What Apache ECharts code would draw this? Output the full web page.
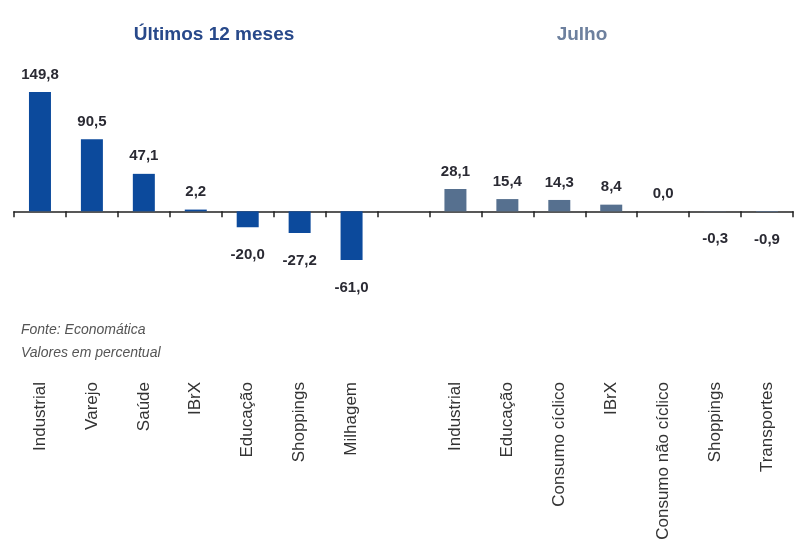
<!DOCTYPE html>
<html>
<head>
<meta charset="utf-8">
<script src="https://cdn.jsdelivr.net/npm/echarts@6/dist/echarts.min.js"></script>
<style>
    html, body { margin: 0; padding: 0; background: #fff; }
    #chart { width: 802px; height: 559px; }
</style>
</head>
<body>
<div id="chart"></div>
<script>
// Últimos 12 meses
var cat12 = ['Industrial', 'Varejo', 'Saúde', 'IBrX', 'Educação', 'Shoppings', 'Milhagem'];
var val12 = [149.8, 90.5, 47.1, 2.2, -20.0, -27.2, -61.0];
// Julho
var catJul = ['Industrial', 'Educação', 'Consumo cíclico', 'IBrX', 'Consumo não cíclico', 'Shoppings', 'Transportes'];
var valJul = [28.1, 15.4, 14.3, 8.4, 0.0, -0.3, -0.9];

var font = '"Liberation Sans", Arial, sans-serif';

// eixo único: grupo 1, espaço vazio, grupo 2
var categories = cat12.concat(['']).concat(catJul);
var data12 = val12.slice();
var dataJul = [];
for (var i = 0; i < cat12.length + 1; i++) {
    dataJul.push('-');
}
for (i = 0; i < catJul.length + 1; i++) {
    data12.push('-');
}
dataJul = dataJul.concat(valJul);

function fmt(p) {
    return p.value.toFixed(1).replace('.', ',');
}

function withLabels(arr) {
    return arr.map(function (v) {
        if (v === '-') return v;
        return {
            value: v,
            label: v < 0 ? { position: 'bottom', distance: 20 } : { position: 'top', distance: 10 }
        };
    });
}

var labelCfg = {
    show: true,
    formatter: fmt,
    fontFamily: font,
    fontWeight: 'bold',
    fontSize: 15,
    color: '#2a2a33'
};

var myChart = echarts.init(document.getElementById('chart'));
var option = {
    animation: false,
    title: [
        {
            text: 'Últimos 12 meses',
            left: 209, top: 20, textAlign: 'center',
            textStyle: { fontFamily: font, fontSize: 19, fontWeight: 'bold', color: '#28498a' }
        },
        {
            text: 'Julho',
            left: 577, top: 20, textAlign: 'center',
            textStyle: { fontFamily: font, fontSize: 19, fontWeight: 'bold', color: '#6d809e' }
        }
    ],
    graphic: [
        {
            type: 'text', left: 21, top: 323,
            style: { text: 'Fonte: Economática', font: 'italic 14px ' + font, fill: '#555' }
        },
        {
            type: 'text', left: 21, top: 346,
            style: { text: 'Valores em percentual', font: 'italic 14px ' + font, fill: '#555' }
        }
    ],
    grid: { left: 14, right: 9, top: 84, height: 191, outerBoundsMode: 'none', containLabel: false },
    xAxis: {
        type: 'category',
        data: categories,
        axisLine: { onZero: true, lineStyle: { color: '#222', width: 1.5 } },
        axisTick: { show: true, length: 6, lineStyle: { color: '#222', width: 1.5 } },
        axisLabel: {
            rotate: 90,
            margin: 107,
            interval: 0,
            fontFamily: font,
            fontSize: 17,
            color: '#333'
        }
    },
    yAxis: {
        type: 'value',
        min: -80,
        max: 160,
        show: false,
        splitLine: { show: false }
    },
    series: [
        {
            name: 'Últimos 12 meses',
            type: 'bar',
            barWidth: 22,
            barGap: '-100%',
            data: withLabels(data12),
            itemStyle: { color: '#0c4a9c' },
            label: labelCfg
        },
        {
            name: 'Julho',
            type: 'bar',
            barWidth: 22,
            data: withLabels(dataJul),
            itemStyle: { color: '#56708f' },
            label: labelCfg
        }
    ]
};
myChart.setOption(option);
</script>
</body>
</html>
